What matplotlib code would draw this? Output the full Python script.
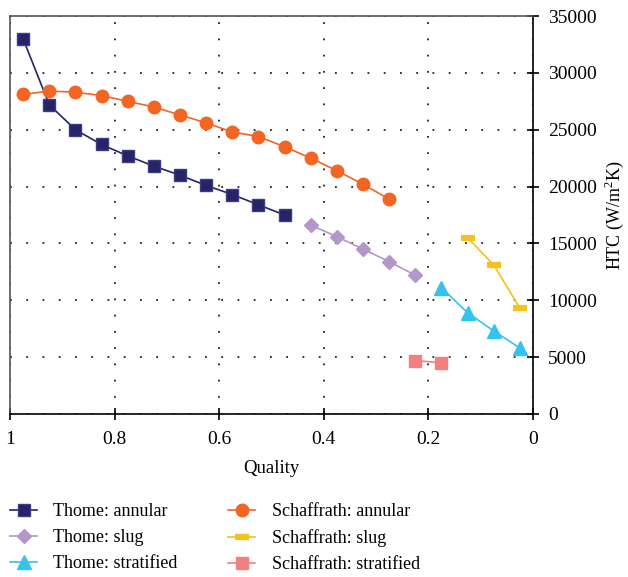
import matplotlib
matplotlib.use("Agg")
import matplotlib.pyplot as plt

plt.rcParams['font.family'] = ['Liberation Serif', 'DejaVu Serif']
plt.rcParams['mathtext.fontset'] = 'custom'
plt.rcParams['mathtext.rm'] = 'Liberation Serif'

# Thome model
q_th_ann = [0.975, 0.925, 0.875, 0.825, 0.775, 0.725, 0.675, 0.625, 0.575, 0.525, 0.475]
h_th_ann = [33000, 27200, 25000, 23700, 22700, 21800, 21000, 20100, 19300, 18400, 17500]
q_th_slug = [0.425, 0.375, 0.325, 0.275, 0.225]
h_th_slug = [16600, 15600, 14500, 13400, 12200]
q_th_strat = [0.175, 0.125, 0.075, 0.025]
h_th_strat = [11100, 8900, 7300, 5800]

# Schaffrath model
q_sc_ann = [0.975, 0.925, 0.875, 0.825, 0.775, 0.725, 0.675, 0.625, 0.575, 0.525,
            0.475, 0.425, 0.375, 0.325, 0.275]
h_sc_ann = [28100, 28400, 28300, 28000, 27500, 27000, 26300, 25600, 24800, 24400,
            23500, 22500, 21400, 20200, 18900]
q_sc_slug = [0.125, 0.075, 0.025]
h_sc_slug = [15500, 13100, 9300]
q_sc_strat = [0.225, 0.175]
h_sc_strat = [4700, 4500]

fig = plt.figure(figsize=(6.28, 5.77), dpi=100)
ax = fig.add_axes([10/628, 1-414/577, 523/628, 398/577])

ax.plot(q_th_ann, h_th_ann, color='#262466', marker='s', ms=9, mec='#3d3b85', lw=1.2,
        label='Thome: annular')
ax.plot(q_th_slug, h_th_slug, color='#b497c9', marker='D', ms=7.5, lw=1.2,
        label='Thome: slug')
ax.plot(q_th_strat, h_th_strat, color='#33c3ee', marker='^', ms=10, lw=1.2,
        label='Thome: stratified')
ax.plot(q_sc_ann, h_sc_ann, color='#f26522', marker='o', ms=9, lw=1.2,
        label='Schaffrath: annular')
ax.plot(q_sc_slug, h_sc_slug, color='#f5c11f', marker='_', ms=10, mew=4.5, lw=1.2,
        label='Schaffrath: slug')
ax.plot(q_sc_strat, h_sc_strat, color='#f28080', marker='s', ms=9, lw=1.2,
        label='Schaffrath: stratified')

ax.set_xlim(1, 0)
ax.set_ylim(0, 35000)
ax.set_xticks([1, 0.8, 0.6, 0.4, 0.2, 0])
ax.set_xticklabels(['1', '0.8', '0.6', '0.4', '0.2', '0'])
ax.set_yticks(range(0, 35001, 5000))
ax.yaxis.tick_right()
ax.yaxis.set_label_position('right')
ax.tick_params(axis='both', direction='inout', length=8, width=1.2, labelsize=14,
               colors='black')
ax.tick_params(axis='y', pad=7)
ax.tick_params(axis='x', pad=8)
ax.grid(True, color='#222222', linestyle=(0, (1, 8)), linewidth=1.3)

ax.spines['left'].set_color('#555555')
ax.spines['top'].set_color('#555555')
for s in ['right', 'bottom']:
    ax.spines[s].set_color('black')
for s in ax.spines.values():
    s.set_linewidth(1.2)

ax.set_xlabel('Quality', fontsize=13.5, labelpad=9)
ax.set_ylabel('HTC (W/m$^2$K)', fontsize=13, labelpad=4)

fig.legend(loc='upper left', bbox_to_anchor=(10/628, 1-503/577), ncol=2, frameon=False,
           fontsize=13, handlelength=1.5, columnspacing=2.8, labelspacing=0.5,
           handletextpad=0.9, borderaxespad=0, borderpad=0)

fig.savefig('out.png', dpi=100)
